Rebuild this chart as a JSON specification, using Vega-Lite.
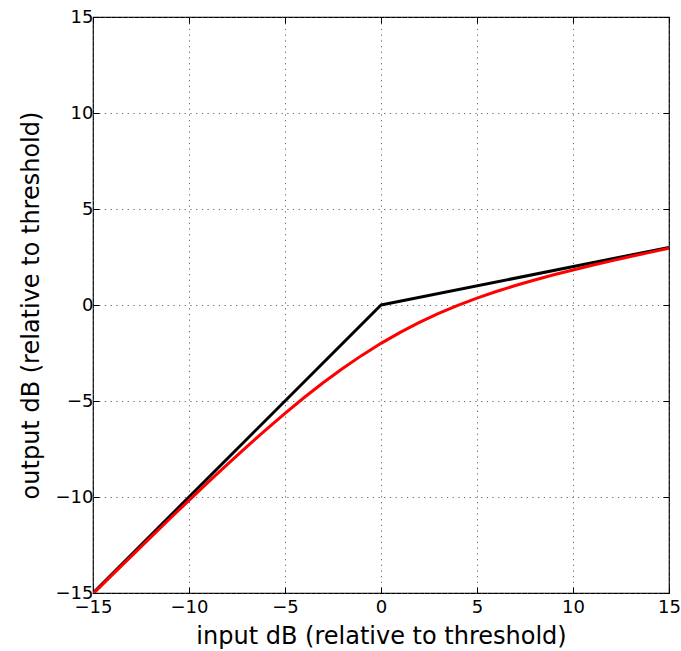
{
  "$schema": "https://vega.github.io/schema/vega-lite/v6.json",
  "width": 576,
  "height": 576,
  "autosize": {"type": "none"},
  "padding": {"left": 93, "top": 17, "right": 12, "bottom": 58},
  "background": "white",
  "config": {
    "font": "DejaVu Sans",
    "view": {"stroke": "black", "strokeWidth": 1.2},
    "axis": {
      "domain": false,
      "grid": true,
      "gridColor": "#555",
      "gridDash": [1.2, 4.5],
      "gridWidth": 1,
      "gridOpacity": 0.9,
      "tickColor": "black",
      "tickSize": -6,
      "tickWidth": 1,
      "labelFont": "DejaVu Sans",
      "labelFontSize": 18,
      "labelColor": "black",
      "labelFlush": false,
      "labelOverlap": false,
      "titleFont": "DejaVu Sans",
      "titleFontSize": 24,
      "titleFontWeight": "normal",
      "titleColor": "black"
    }
  },
  "datasets": {
    "hard": [
      {"x": -15, "y": -15}, {"x": 0, "y": 0}, {"x": 15, "y": 3}
    ],
    "soft": [
      {"x": -15, "y": -15.044}, {"x": -14, "y": -14.058}, {"x": -13, "y": -13.077},
      {"x": -12, "y": -12.101}, {"x": -11, "y": -11.133}, {"x": -10, "y": -10.174},
      {"x": -9, "y": -9.227}, {"x": -8, "y": -8.296}, {"x": -7, "y": -7.385},
      {"x": -6, "y": -6.498}, {"x": -5, "y": -5.641}, {"x": -4, "y": -4.82},
      {"x": -3, "y": -4.039}, {"x": -2, "y": -3.306}, {"x": -1, "y": -2.624},
      {"x": 0, "y": -1.996}, {"x": 1, "y": -1.424}, {"x": 2, "y": -0.906},
      {"x": 3, "y": -0.439}, {"x": 4, "y": -0.02}, {"x": 5, "y": 0.359},
      {"x": 6, "y": 0.702}, {"x": 7, "y": 1.015}, {"x": 8, "y": 1.303},
      {"x": 9, "y": 1.573}, {"x": 10, "y": 1.826}, {"x": 11, "y": 2.067},
      {"x": 12, "y": 2.299}, {"x": 13, "y": 2.524}, {"x": 14, "y": 2.742},
      {"x": 15, "y": 2.956}
    ]
  },
  "layer": [
    {
      "data": {"name": "hard"},
      "mark": {"type": "line", "color": "black", "strokeWidth": 3, "clip": true, "strokeJoin": "round"},
      "encoding": {
        "x": {"field": "x", "type": "quantitative", "scale": {"domain": [-15, 15], "nice": false, "zero": false},
          "axis": {"title": "input dB (relative to threshold)", "values": [-15, -10, -5, 0, 5, 10, 15], "labelPadding": 11, "titlePadding": 8}},
        "y": {"field": "y", "type": "quantitative", "scale": {"domain": [-15, 15], "nice": false, "zero": false},
          "axis": {"title": "output dB (relative to threshold)", "values": [-15, -10, -5, 0, 5, 10, 15], "labelPadding": 6, "titlePadding": 12}}
      }
    },
    {
      "data": {"name": "soft"},
      "mark": {"type": "line", "color": "#ff0000", "strokeWidth": 3, "clip": true},
      "encoding": {
        "x": {"field": "x", "type": "quantitative", "scale": {"domain": [-15, 15], "nice": false, "zero": false},
          "axis": {"orient": "top", "title": null, "labels": false, "grid": false, "values": [-15, -10, -5, 0, 5, 10, 15]}},
        "y": {"field": "y", "type": "quantitative", "scale": {"domain": [-15, 15], "nice": false, "zero": false},
          "axis": {"orient": "right", "title": null, "labels": false, "grid": false, "values": [-15, -10, -5, 0, 5, 10, 15]}}
      }
    }
  ],
  "resolve": {"axis": {"x": "independent", "y": "independent"}}
}
